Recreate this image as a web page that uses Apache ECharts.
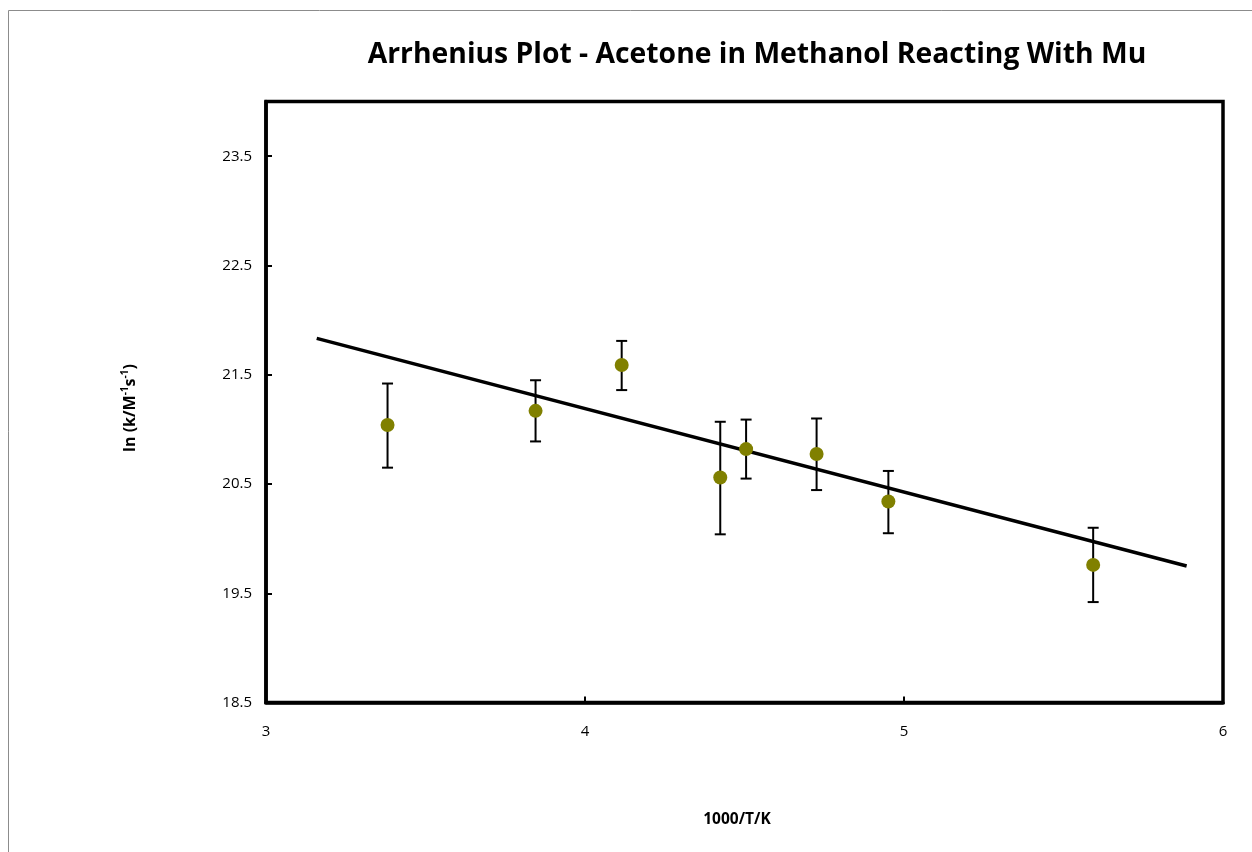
<!DOCTYPE html>
<html>
<head>
<meta charset="utf-8">
<script src="https://cdn.jsdelivr.net/npm/echarts@6/dist/echarts.min.js"></script>
<style>html,body{margin:0;padding:0;background:#fff;}#c{width:1252px;height:852px;}</style>
</head>
<body>
<div id="c"></div>
<script>
// Data
var xValues = [3.381, 3.845, 4.115, 4.424, 4.505, 4.726, 4.951, 5.593];
var yValues = [21.04, 21.17, 21.59, 20.56, 20.82, 20.775, 20.34, 19.76];
var yUpper  = [21.42, 21.45, 21.81, 21.07, 21.09, 21.10, 20.62, 20.10];
var yLower  = [20.65, 20.89, 21.36, 20.04, 20.55, 20.445, 20.05, 19.42];
var trendX = [3.159, 5.886];
var trendY = [21.833, 19.75];
var titleText = 'Arrhenius Plot - Acetone in Methanol Reacting With Mu';
var xName = '1000/T/K';

var points = xValues.map(function (x, i) { return [x, yValues[i]]; });
var bars = xValues.map(function (x, i) { return [x, yLower[i], yUpper[i]]; });
var trend = trendX.map(function (x, i) { return [x, trendY[i]]; });

var chart = echarts.init(document.getElementById('c'), null, {renderer: 'canvas'});
var font = '"Open Sans", "Liberation Sans", sans-serif';
chart.setOption({
  animation: false,
  backgroundColor: '#fff',
  title: {
    text: titleText,
    left: 752, top: 36, textAlign: 'center',
    textStyle: {fontFamily: font, fontWeight: 'bold', fontSize: 28.3, color: '#000'}
  },
  graphic: [
    {type: 'rect', shape: {x: 8.5, y: 10.5, width: 1400, height: 1000}, style: {fill: 'none', stroke: '#8c8c8c', lineWidth: 1}, silent: true, z: -10},
    {type: 'text', x: 130, y: 408, rotation: Math.PI / 2, style: {
      text: 'ln (k/M{s|-1}s{s|-1})', fontFamily: font, fontWeight: 'bold', fontSize: 16, fill: '#000',
      align: 'center', verticalAlign: 'middle',
      rich: {s: {fontFamily: font, fontWeight: 'bold', fontSize: 10, fill: '#000', verticalAlign: 'top', padding: [0, 0, 9, 0]}}
    }},
    {type: 'text', x: 737, y: 820, style: {text: xName, fontFamily: font, fontWeight: 'bold', fontSize: 15.5, fill: '#000', align: 'center', verticalAlign: 'middle'}}
  ],
  grid: {left: 266, top: 101.6, right: 29, bottom: 149.4, show: true, borderColor: '#000', borderWidth: 3.5, backgroundColor: 'transparent'},
  xAxis: {
    type: 'value', min: 3, max: 6, interval: 1,
    axisLine: {show: true, onZero: false, lineStyle: {color: '#000', width: 3.5}},
    axisTick: {show: true, inside: false, length: -6, lineStyle: {color: '#000', width: 2}},
    splitLine: {show: false},
    axisLabel: {margin: 22, color: '#000', fontFamily: font, fontSize: 15}
  },
  yAxis: {
    type: 'value', min: 18.5, max: 24, interval: 1,
    axisLine: {show: true, onZero: false, lineStyle: {color: '#000', width: 3.5}},
    axisTick: {show: true, inside: false, length: -6, lineStyle: {color: '#000', width: 2}},
    splitLine: {show: false},
    axisLabel: {margin: 14, color: '#000', fontFamily: font, fontSize: 15, showMaxLabel: false,
      formatter: function (v) { return v.toFixed(1); }}
  },
  series: [
    {
      type: 'line', data: trend, symbol: 'none', z: 2,
      lineStyle: {color: '#000', width: 3.5}
    },
    {
      type: 'custom', z: 3,
      data: bars,
      renderItem: function (params, api) {
        var x = api.value(0);
        var lo = api.coord([x, api.value(1)]);
        var hi = api.coord([x, api.value(2)]);
        var cap = 5.5;
        var st = {stroke: '#000', lineWidth: 2};
        return {type: 'group', children: [
          {type: 'line', shape: {x1: lo[0], y1: lo[1], x2: hi[0], y2: hi[1]}, style: st},
          {type: 'line', shape: {x1: lo[0] - cap, y1: lo[1], x2: lo[0] + cap, y2: lo[1]}, style: st},
          {type: 'line', shape: {x1: hi[0] - cap, y1: hi[1], x2: hi[0] + cap, y2: hi[1]}, style: st}
        ]};
      }
    },
    {
      type: 'scatter', data: points, symbol: 'circle', symbolSize: 14, z: 4,
      itemStyle: {color: '#808000', opacity: 1}
    }
  ]
});
</script>
</body>
</html>
